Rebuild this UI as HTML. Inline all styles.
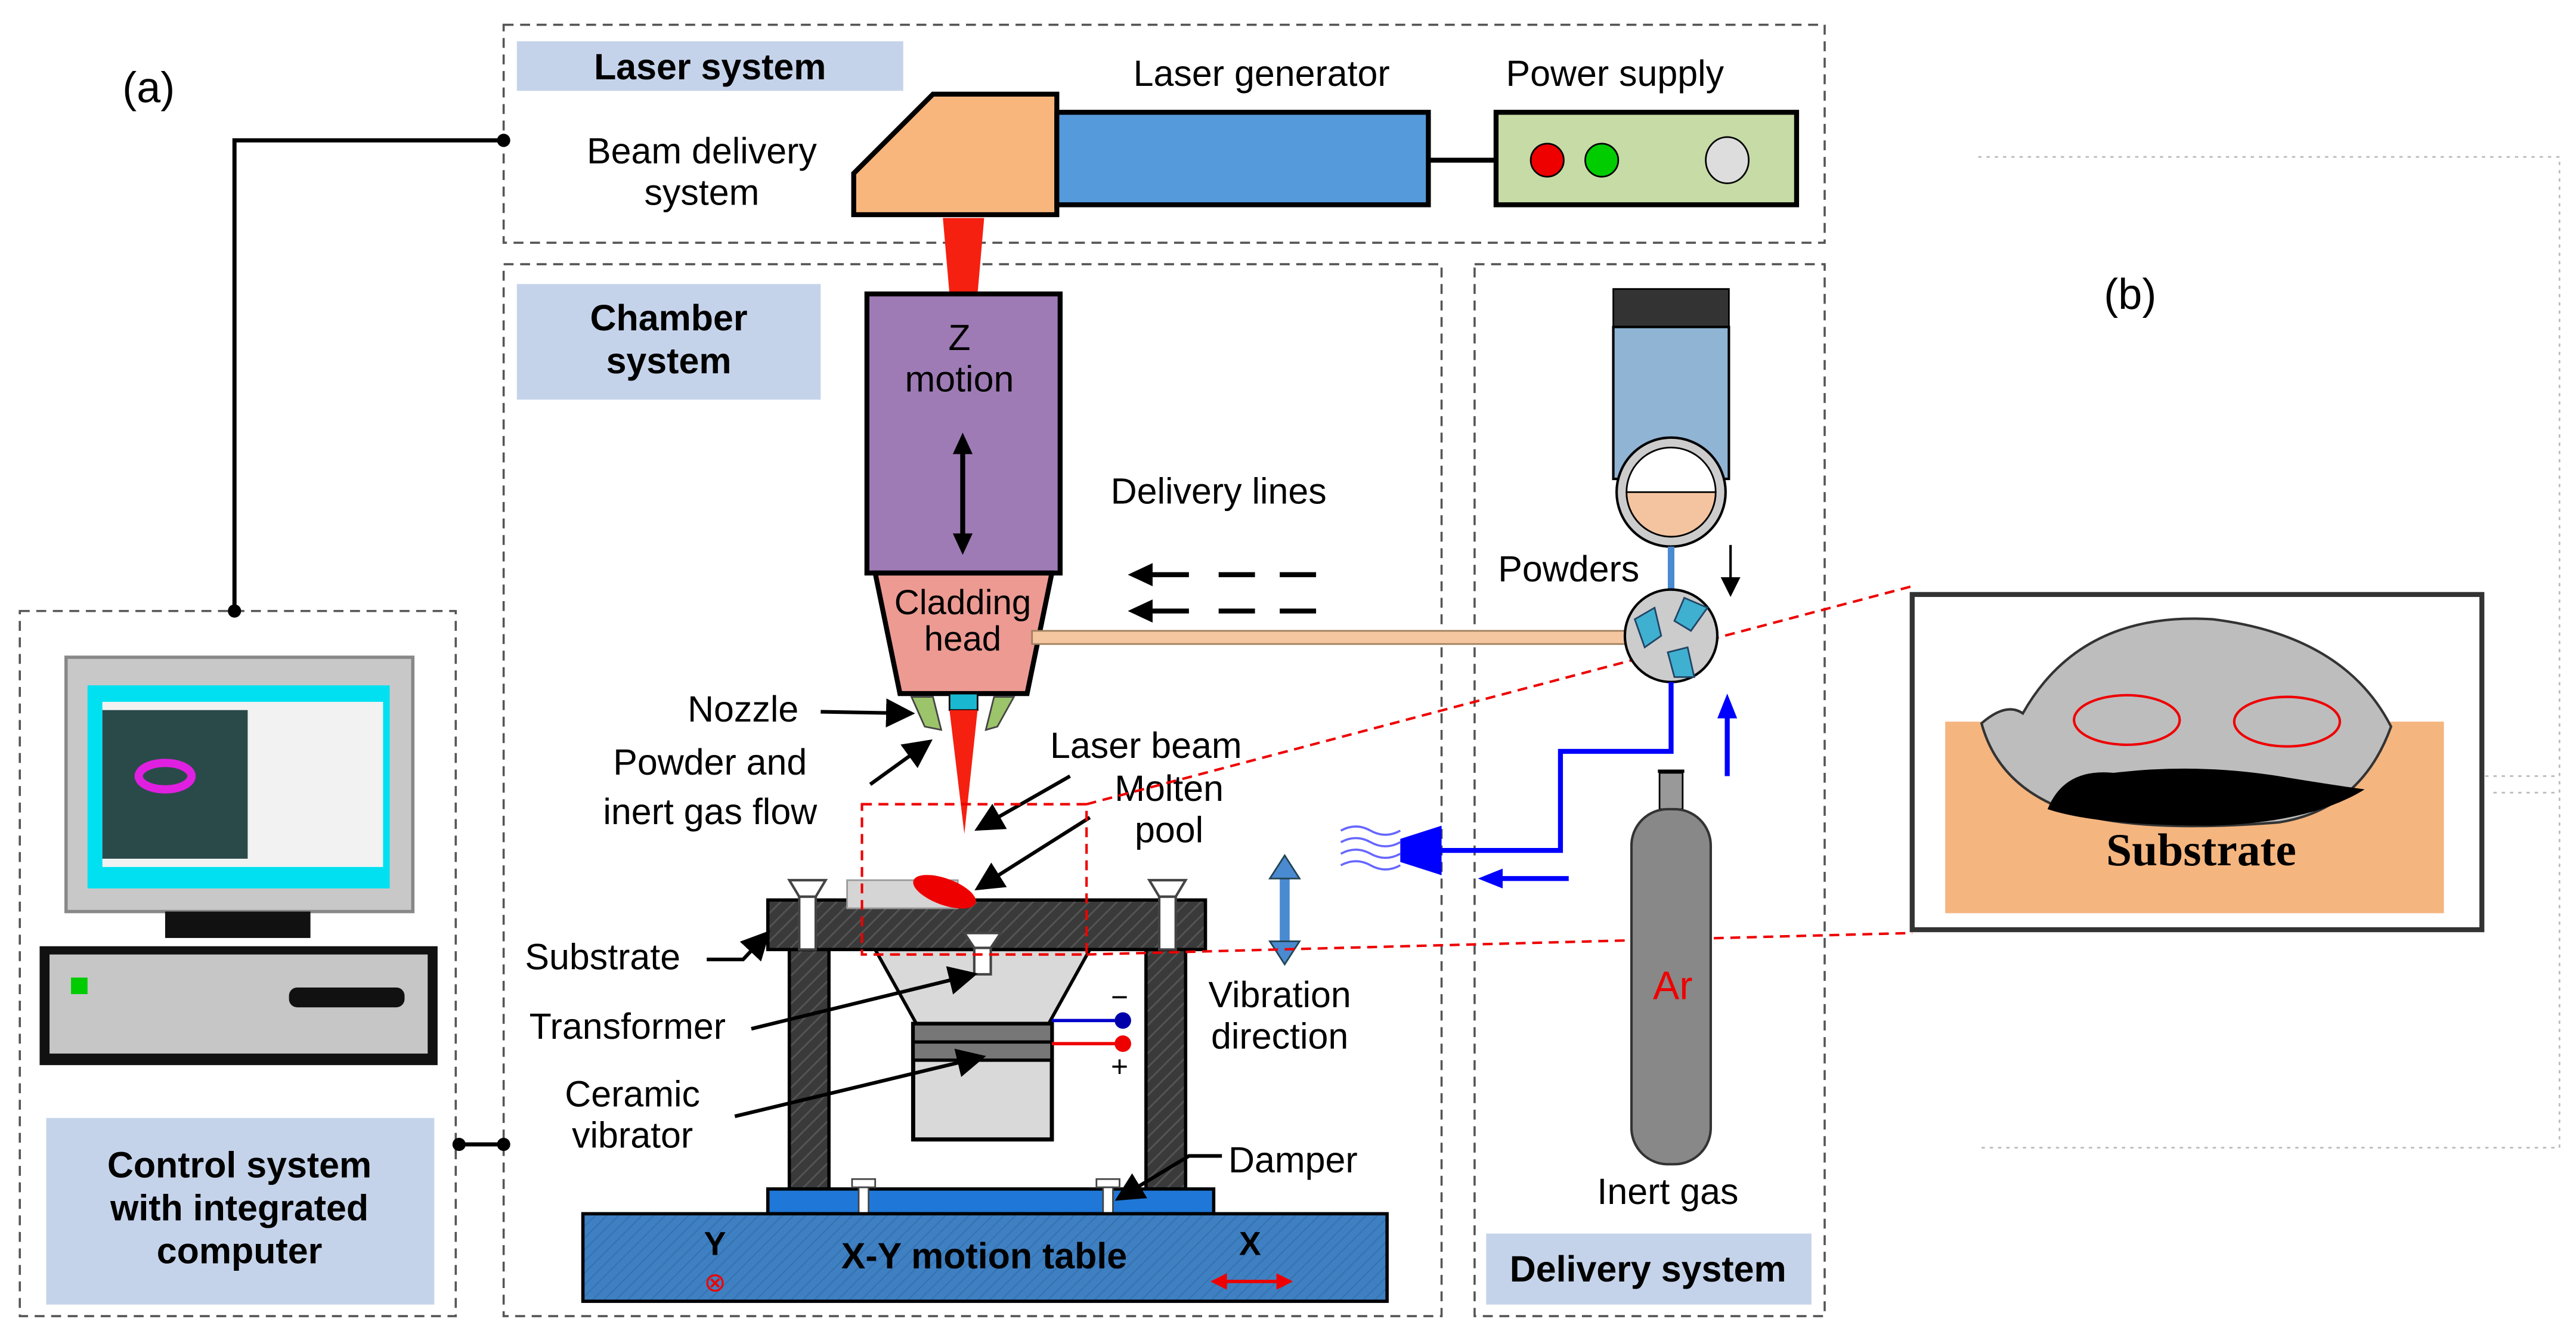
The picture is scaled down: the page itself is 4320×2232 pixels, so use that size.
<!DOCTYPE html>
<html><head><meta charset="utf-8"><style>html,body{margin:0;padding:0;background:#fff}svg{display:block}text{font-family:"Liberation Sans",sans-serif}</style></head><body>
<svg width="4320" height="2232" viewBox="0 0 1560 806" preserveAspectRatio="none" xmlns="http://www.w3.org/2000/svg">
<defs>
<pattern id="hatch" width="6" height="6" patternUnits="userSpaceOnUse" patternTransform="rotate(45)"><rect width="6" height="6" fill="#3a3a3a"/><line x1="0" y1="0" x2="0" y2="6" stroke="#555" stroke-width="2"/></pattern>
<pattern id="hatchB" width="5" height="5" patternUnits="userSpaceOnUse" patternTransform="rotate(45)"><rect width="5" height="5" fill="#3f80c2"/><line x1="0" y1="0" x2="0" y2="5" stroke="#3572b0" stroke-width="1.5"/></pattern>
<marker id="ar" markerWidth="8" markerHeight="8" refX="7" refY="4" orient="auto" markerUnits="strokeWidth"><path d="M0,0 L8,4 L0,8 z" fill="#000"/></marker>
</defs>
<g fill="none" stroke="#555" stroke-width="1.3" stroke-dasharray="6,4">
<rect x="305" y="15" width="800" height="132"/>
<rect x="305" y="160" width="568" height="637"/>
<rect x="893" y="160" width="212" height="637"/>
<rect x="12" y="370" width="264" height="427"/>
</g>
<g fill="none" stroke="#bbb" stroke-width="1" stroke-dasharray="2,3">
<path d="M1198 95 H1550 V695 H1198"/>
<path d="M1505 470 H1550 M1510 480 H1550"/>
</g>
<text x="90" y="62" font-size="26" text-anchor="middle">(a)</text>
<text x="1290" y="187" font-size="26" text-anchor="middle">(b)</text>
<rect x="313" y="25" width="234" height="30" fill="#c5d3ea"/>
<text x="430" y="48" font-size="22" font-weight="bold" text-anchor="middle">Laser system</text>
<text x="425" y="99" font-size="22" text-anchor="middle">Beam delivery</text>
<text x="425" y="124" font-size="22" text-anchor="middle">system</text>
<text x="764" y="52" font-size="22" text-anchor="middle">Laser generator</text>
<text x="978" y="52" font-size="22" text-anchor="middle">Power supply</text>
<polygon points="565,57 640,57 640,130 517,130 517,105" fill="#f9b67c" stroke="#000" stroke-width="3"/>
<rect x="640" y="68" width="225" height="56" fill="#559bdc" stroke="#000" stroke-width="3"/>
<line x1="865" y1="97" x2="906" y2="97" stroke="#000" stroke-width="3"/>
<rect x="906" y="68" width="182" height="56" fill="#c6dba6" stroke="#000" stroke-width="3"/>
<circle cx="937" cy="97" r="10" fill="#e00" stroke="#000"/>
<circle cx="970" cy="97" r="10" fill="#0c0" stroke="#000"/>
<ellipse cx="1046" cy="97" rx="13" ry="14" fill="#ddd" stroke="#000"/>
<path d="M305 85 H142 V370" fill="none" stroke="#000" stroke-width="2.5"/>
<circle cx="305" cy="85" r="4"/><circle cx="142" cy="370" r="4"/>
<line x1="278" y1="693" x2="305" y2="693" stroke="#000" stroke-width="2.5"/>
<circle cx="278" cy="693" r="4"/><circle cx="305" cy="693" r="4"/>
<rect x="40" y="398" width="210" height="154" fill="#c8c8c8" stroke="#888" stroke-width="2"/>
<rect x="53" y="415" width="183" height="123" fill="#00e0f0"/>
<rect x="62" y="425" width="170" height="100" fill="#f2f2f2"/>
<rect x="62" y="430" width="88" height="90" fill="#2a4a4a"/>
<ellipse cx="100" cy="470" rx="16" ry="8" fill="none" stroke="#e020e0" stroke-width="5"/>
<rect x="100" y="552" width="88" height="16" fill="#111"/>
<rect x="24" y="573" width="241" height="72" fill="#111"/>
<rect x="30" y="578" width="229" height="60" fill="#c6c6c6"/>
<rect x="43" y="592" width="10" height="10" fill="#0c0"/>
<rect x="175" y="598" width="70" height="12" rx="5" fill="#111"/>
<rect x="28" y="677" width="235" height="113" fill="#c5d3ea"/>
<text x="145" y="713" font-size="22" font-weight="bold" text-anchor="middle">Control system</text>
<text x="145" y="739" font-size="22" font-weight="bold" text-anchor="middle">with integrated</text>
<text x="145" y="765" font-size="22" font-weight="bold" text-anchor="middle">computer</text>
<rect x="313" y="172" width="184" height="70" fill="#c5d3ea"/>
<text x="405" y="200" font-size="22" font-weight="bold" text-anchor="middle">Chamber</text>
<text x="405" y="226" font-size="22" font-weight="bold" text-anchor="middle">system</text>
<polygon points="571,132 596,132 592,178 575,178" fill="#f52010"/>
<rect x="525" y="178" width="117" height="169" fill="#9e7bb5" stroke="#000" stroke-width="3"/>
<text x="581" y="212" font-size="22" text-anchor="middle">Z</text>
<text x="581" y="237" font-size="22" text-anchor="middle">motion</text>
<line x1="583" y1="270" x2="583" y2="328" stroke="#000" stroke-width="3"/>
<polygon points="583,262 577,275 589,275"/><polygon points="583,336 577,323 589,323"/>
<polygon points="530,347 637,347 622,420 545,420" fill="#ec9a92" stroke="#000" stroke-width="3"/>
<text x="583" y="372" font-size="21" text-anchor="middle">Cladding</text>
<text x="583" y="394" font-size="21" text-anchor="middle">head</text>
<polygon points="552,422 565,422 570,442 560,440" fill="#9cc46a" stroke="#444"/>
<polygon points="602,422 614,422 604,440 597,442" fill="#9cc46a" stroke="#444"/>
<rect x="575" y="420" width="17" height="10" fill="#19b8d0" stroke="#000"/>
<polygon points="575,430 592,430 584,505" fill="#f52010"/>
<rect x="625" y="382" width="360" height="8" fill="#f4c7a0" stroke="#a08060" stroke-width="1"/>
<text x="738" y="305" font-size="22" text-anchor="middle">Delivery lines</text>
<g stroke="#000" stroke-width="3"><line x1="695" y1="348" x2="720" y2="348"/><line x1="738" y1="348" x2="760" y2="348"/><line x1="775" y1="348" x2="797" y2="348"/>
<line x1="695" y1="370" x2="720" y2="370"/><line x1="738" y1="370" x2="760" y2="370"/><line x1="775" y1="370" x2="797" y2="370"/></g>
<polygon points="683,348 698,341 698,355"/><polygon points="683,370 698,363 698,377"/>
<!-- stage -->
<polygon points="530,575 660,575 635,620 555,620" fill="#d9d9d9" stroke="#000" stroke-width="2"/>
<rect x="553" y="620" width="84" height="70" fill="#d9d9d9" stroke="#000" stroke-width="2.5"/>
<rect x="553" y="620" width="84" height="22" fill="#777" stroke="#000" stroke-width="2"/>
<line x1="553" y1="631" x2="637" y2="631" stroke="#000" stroke-width="2"/>
<line x1="637" y1="618" x2="680" y2="618" stroke="#00c" stroke-width="2"/><circle cx="680" cy="618" r="5" fill="#00a"/>
<line x1="637" y1="632" x2="680" y2="632" stroke="#e00" stroke-width="2"/><circle cx="680" cy="632" r="5" fill="#e00"/>
<text x="678" y="610" font-size="18" text-anchor="middle">−</text><text x="678" y="652" font-size="18" text-anchor="middle">+</text>
<rect x="478" y="575" width="24" height="145" fill="url(#hatch)" stroke="#000" stroke-width="2"/>
<rect x="694" y="575" width="24" height="145" fill="url(#hatch)" stroke="#000" stroke-width="2"/>
<rect x="465" y="545" width="265" height="30" fill="url(#hatch)" stroke="#000" stroke-width="2"/>
<rect x="513" y="533" width="67" height="17" fill="#d5d5d5" stroke="#999"/>
<ellipse cx="572" cy="540" rx="20" ry="8" fill="#e00" transform="rotate(20 572 540)"/>
<g fill="#fff" stroke="#444" stroke-width="1.5">
<polygon points="478,533 500,533 494,543 484,543"/><rect x="484" y="543" width="10" height="32"/>
<polygon points="696,533 718,533 712,543 702,543"/><rect x="702" y="543" width="10" height="32"/>
<polygon points="584,565 606,565 600,574 590,574"/><rect x="590" y="574" width="10" height="16"/>
</g>
<rect x="465" y="720" width="270" height="15" fill="#1f78d8" stroke="#000" stroke-width="2"/>
<rect x="516" y="714" width="14" height="5" fill="#fff" stroke="#444"/><rect x="520" y="719" width="6" height="16" fill="#fff" stroke="#444"/>
<rect x="664" y="714" width="14" height="5" fill="#fff" stroke="#444"/><rect x="668" y="719" width="6" height="16" fill="#fff" stroke="#444"/>
<rect x="353" y="735" width="487" height="53" fill="url(#hatchB)" stroke="#000" stroke-width="2"/>
<text x="596" y="768" font-size="22" font-weight="bold" text-anchor="middle">X-Y motion table</text>
<text x="433" y="760" font-size="20" font-weight="bold" text-anchor="middle">Y</text>
<text x="433" y="782" font-size="16" fill="#e00" text-anchor="middle">⊗</text>
<text x="757" y="760" font-size="20" font-weight="bold" text-anchor="middle">X</text>
<line x1="740" y1="776" x2="776" y2="776" stroke="#e00" stroke-width="2"/>
<polygon points="733,776 743,771 743,781" fill="#e00"/><polygon points="783,776 773,771 773,781" fill="#e00"/>
<line x1="778" y1="527" x2="778" y2="575" stroke="#4a8ad0" stroke-width="6"/>
<polygon points="778,518 769,532 787,532" fill="#4a8ad0" stroke="#245"/><polygon points="778,584 769,570 787,570" fill="#4a8ad0" stroke="#245"/>
<g font-size="22" text-anchor="middle">
<text x="450" y="437">Nozzle</text>
<text x="430" y="469">Powder and</text>
<text x="430" y="499">inert gas flow</text>
<text x="694" y="459">Laser beam</text>
<text x="708" y="485">Molten</text>
<text x="708" y="510">pool</text>
<text x="365" y="587">Substrate</text>
<text x="380" y="629">Transformer</text>
<text x="383" y="670">Ceramic</text>
<text x="383" y="695">vibrator</text>
<text x="775" y="610">Vibration</text>
<text x="775" y="635">direction</text>
<text x="783" y="710">Damper</text>
<text x="1010" y="729">Inert gas</text>
<text x="950" y="352">Powders</text>
</g>
<g stroke="#000" stroke-width="2.2" fill="none" marker-end="url(#ar)">
<line x1="497" y1="431" x2="552" y2="432"/>
<line x1="527" y1="475" x2="563" y2="449"/>
<line x1="648" y1="470" x2="592" y2="502"/>
<line x1="660" y1="495" x2="592" y2="538"/>
<polyline points="428,581 450,581 465,565"/>
<line x1="455" y1="623" x2="590" y2="590"/>
<line x1="445" y1="676" x2="595" y2="640"/>
<polyline points="740,700 720,700 677,726"/>
</g>
<g fill="none" stroke="#e00" stroke-width="1.5" stroke-dasharray="6,4">
<rect x="522" y="487" width="136" height="91"/>
<line x1="658" y1="487" x2="1158" y2="355"/>
<line x1="658" y1="578" x2="1158" y2="565"/>
</g>
<!-- delivery -->
<rect x="977" y="175" width="70" height="23" fill="#333" stroke="#000"/>
<rect x="977" y="198" width="70" height="92" fill="#90b4d4" stroke="#000" stroke-width="1.5"/>
<circle cx="1012" cy="298" r="33" fill="#ccc" stroke="#000" stroke-width="1.5"/>
<circle cx="1012" cy="298" r="27" fill="#fff" stroke="#000"/>
<path d="M985 298 H1039 A27 27 0 0 1 985 298 Z" fill="#f4c4a0" stroke="#000"/>
<line x1="1012" y1="331" x2="1012" y2="357" stroke="#4a8ad0" stroke-width="4"/>
<line x1="1048" y1="330" x2="1048" y2="360" stroke="#000" stroke-width="1.5" marker-end="url(#ar)"/>
<circle cx="1012" cy="385" r="28" fill="#ccc" stroke="#000" stroke-width="1.5"/>
<polygon points="990,375 1002,368 1006,385 996,392" fill="#3fb0d0" stroke="#246"/>
<polygon points="1020,362 1034,368 1024,382 1014,376" fill="#3fb0d0" stroke="#246"/>
<polygon points="1010,395 1022,392 1026,410 1014,410" fill="#3fb0d0" stroke="#246"/>
<polyline points="1012,413 1012,455 945,455 945,515 873,515" fill="none" stroke="#00f" stroke-width="3"/>
<line x1="1046" y1="470" x2="1046" y2="432" stroke="#00f" stroke-width="3"/><polygon points="1046,420 1040,435 1052,435" fill="#00f"/>
<line x1="950" y1="532" x2="908" y2="532" stroke="#00f" stroke-width="3"/><polygon points="895,532 910,526 910,538" fill="#00f"/>
<polygon points="848,508 873,500 873,530 848,522" fill="#00f"/>
<g fill="none" stroke="#66f" stroke-width="1.3">
<path d="M812 503 q9 -5 18 0 t18 0"/><path d="M812 510 q9 -5 18 0 t18 0"/><path d="M812 517 q9 -5 18 0 t18 0"/><path d="M812 524 q9 -5 18 0 t18 0"/></g>
<rect x="1005" y="468" width="14" height="22" fill="#999" stroke="#000"/>
<line x1="1004" y1="467" x2="1020" y2="467" stroke="#000" stroke-width="2"/>
<rect x="988" y="490" width="48" height="215" rx="22" fill="#888" stroke="#333" stroke-width="1.5"/>
<text x="1013" y="605" font-size="24" fill="#e00" text-anchor="middle">Ar</text>
<rect x="900" y="747" width="197" height="43" fill="#c5d3ea"/>
<text x="998" y="776" font-size="22" font-weight="bold" text-anchor="middle">Delivery system</text>
<!-- (b) -->
<rect x="1158" y="360" width="345" height="203" fill="#fff" stroke="#333" stroke-width="3"/>
<rect x="1178" y="437" width="302" height="116" fill="#f5b57f"/>
<path d="M1200 438 Q1215 425 1225 432 Q1260 370 1340 375 Q1420 385 1448 440 Q1430 490 1380 498 Q1290 505 1250 490 Q1210 475 1200 438 Z" fill="#bdbdbd" stroke="#333" stroke-width="1.5"/>
<path d="M1240 490 Q1250 465 1280 468 Q1330 462 1380 470 Q1410 475 1432 478 Q1400 498 1340 500 Q1270 500 1240 490 Z" fill="#000"/>
<ellipse cx="1288" cy="436" rx="32" ry="15" fill="none" stroke="#e00" stroke-width="1.5"/>
<ellipse cx="1385" cy="437" rx="32" ry="15" fill="none" stroke="#e00" stroke-width="1.5"/>
<text x="1333" y="524" font-size="28" font-weight="bold" text-anchor="middle" style="font-family:'Liberation Serif',serif">Substrate</text>
</svg>
</body></html>
